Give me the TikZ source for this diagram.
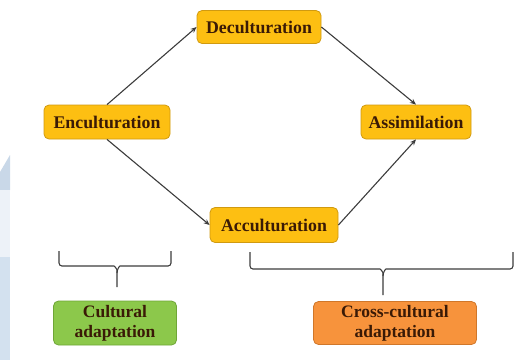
\documentclass[tikz,border=0pt]{standalone}
\usepackage{fontspec}
\setmainfont{Liberation Serif}
\usetikzlibrary{arrows.meta}
\definecolor{boxyellow}{HTML}{FDBF12}
\definecolor{edgeyellow}{HTML}{D09A10}
\definecolor{boxgreen}{HTML}{8CC84B}
\definecolor{edgegreen}{HTML}{6FA637}
\definecolor{boxorange}{HTML}{F7933C}
\definecolor{edgeorange}{HTML}{D0772A}
\definecolor{txtdark}{HTML}{3A1A06}
\definecolor{linegray}{HTML}{3C3C3C}
\definecolor{wmA}{HTML}{C9D8E8}
\definecolor{wmB}{HTML}{EDF2F8}
\definecolor{wmC}{HTML}{D3E1EF}
\tikzset{
  proc/.style={draw=edgeyellow, fill=boxyellow, line width=0.8pt, rounded corners=5pt,
    text=txtdark, font=\fontsize{17.8}{20}\selectfont\bfseries, inner sep=0pt, align=center},
  outbox/.style={proc, font=\fontsize{17.5}{20}\selectfont\bfseries},
  flow/.style={draw=linegray, line width=1.1pt, -{Stealth[length=6pt,width=5pt]}},
  bracket/.style={draw=linegray, line width=1.1pt, rounded corners=3pt}
}
\begin{document}
\begin{tikzpicture}[x=1pt,y=-1pt]
\useasboundingbox (0,0) rectangle (518,360);
% faint watermark strip at left edge
\fill[wmA] (0,172) -- (10,155) -- (10,190) -- (0,190) -- cycle;
\fill[wmB] (0,190) rectangle (10,257);
\fill[wmC] (0,257) rectangle (10,360);
% process nodes
\node[proc, minimum width=126pt, minimum height=34pt] (enc) at (107,122) {Enculturation};
\node[proc, minimum width=124pt, minimum height=33pt] (dec) at (259,27) {Deculturation};
\node[proc, minimum width=110pt, minimum height=34pt] (ass) at (416,122) {Assimilation};
\node[proc, minimum width=128pt, minimum height=35pt] (acc) at (274,225) {Acculturation};
% outcome nodes
\node[outbox, draw=edgegreen, fill=boxgreen, minimum width=123pt, minimum height=44pt] (cult) at (115,323) {Cultural\\adaptation};
\node[outbox, draw=edgeorange, fill=boxorange, minimum width=163pt, minimum height=43pt] (cross) at (395,323) {Cross-cultural\\adaptation};
% arrows
\draw[flow] (enc.north) -- (dec.west);
\draw[flow] (dec.east) -- (ass.north);
\draw[flow] (enc.south) -- (acc.west);
\draw[flow] (acc.east) -- (ass.south);
% brackets
\coordinate (lbL) at (59,251);
\coordinate (lbR) at (171,251);
\coordinate (lbS) at (117,287);
\draw[bracket] (lbL) |- (111,266) to[out=0,in=90] (lbS |- 0,273) -- (lbS);
\draw[bracket] (lbR) |- (123,266) to[out=180,in=90] (lbS |- 0,273);
\coordinate (rbL) at (250,252);
\coordinate (rbR) at (513,252);
\coordinate (rbS) at (383,295);
\draw[bracket] (rbL) |- (377,269) to[out=0,in=90] (rbS |- 0,276) -- (rbS);
\draw[bracket] (rbR) |- (389,269) to[out=180,in=90] (rbS |- 0,276);
\end{tikzpicture}
\end{document}
